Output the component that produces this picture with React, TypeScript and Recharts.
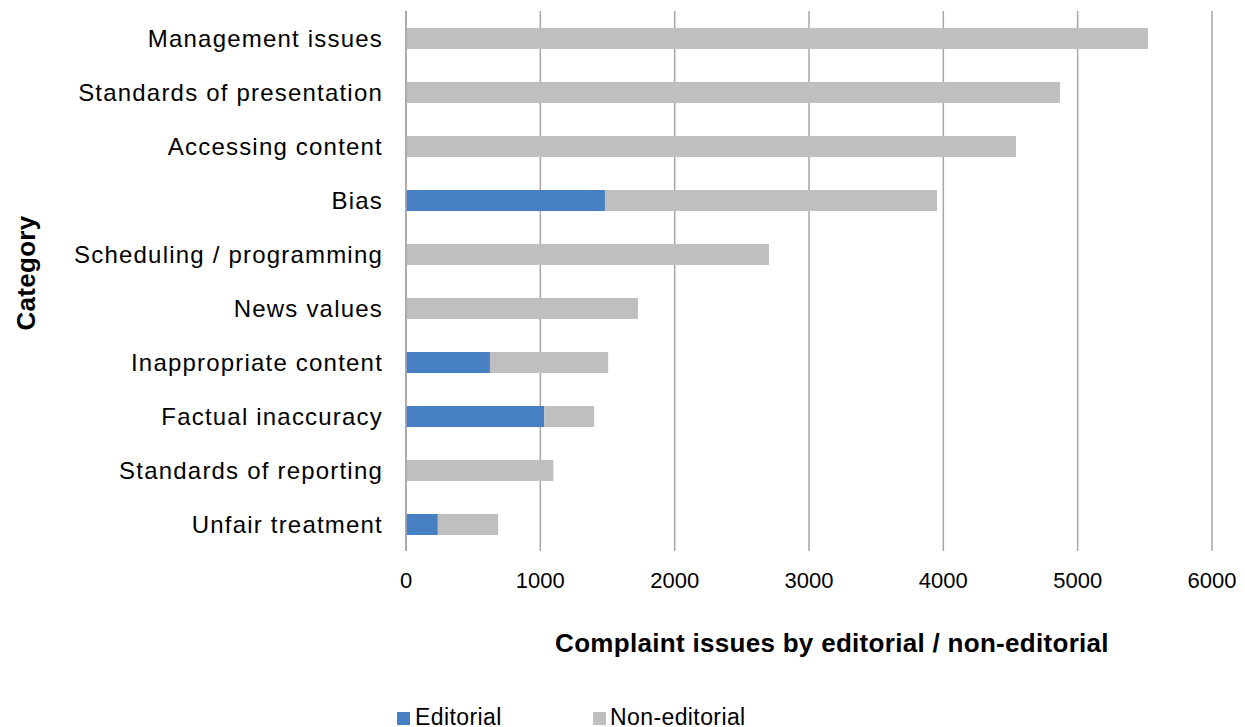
import { Bar, BarChart, CartesianGrid, XAxis, YAxis } from "recharts"

const categories = [
  "Management issues",
  "Standards of presentation",
  "Accessing content",
  "Bias",
  "Scheduling / programming",
  "News values",
  "Inappropriate content",
  "Factual inaccuracy",
  "Standards of reporting",
  "Unfair treatment",
]
const editorial = [0, 0, 0, 1481, 0, 0, 625, 1030, 0, 237]
const nonEditorial = [5524, 4868, 4541, 2472, 2702, 1727, 880, 371, 1097, 449]
const xTicks = [0, 1000, 2000, 3000, 4000, 5000, 6000]

const FONT = "'Liberation Sans', Arial, sans-serif"
const BLUE = "#4680c2"
const GREY = "#bfbfbf"
const GRID = "#a6a6a6"

export default function App() {
  const data = categories.map((c, i) => ({
    name: c,
    Editorial: editorial[i],
    "Non-editorial": nonEditorial[i],
  }))

  return (
    <div style={{ position: "absolute", left: 0, top: 0, width: 1245, height: 727, fontFamily: FONT, background: "#fff" }}>
      <BarChart
        width={1245}
        height={727}
        data={data}
        layout="vertical"
        margin={{ top: 11, right: 33, left: 0, bottom: 66 }}
        barCategoryGap={0}
      >
        <CartesianGrid horizontal={false} stroke={GRID} strokeWidth={1.5} />
        <XAxis
          type="number"
          domain={[0, 6000]}
          ticks={xTicks}
          height={110}
          axisLine={false}
          tickLine={false}
          tickSize={0}
          tickMargin={21}
          tick={{ fill: "#000", fontSize: 22, fontFamily: FONT }}
        />
        <YAxis
          type="category"
          dataKey="name"
          width={406}
          axisLine={{ stroke: GRID, strokeWidth: 1.5 }}
          tickLine={false}
          tickSize={0}
          tickMargin={23}
          tick={{ fill: "#000", fontSize: 24, fontFamily: FONT, letterSpacing: 1.2 }}
        />
        <Bar dataKey="Editorial" stackId="a" fill={BLUE} barSize={21} isAnimationActive={false} />
        <Bar dataKey="Non-editorial" stackId="a" fill={GREY} barSize={21} isAnimationActive={false} />
      </BarChart>
      <svg
        width={1245}
        height={727}
        style={{ position: "absolute", left: 0, top: 0, pointerEvents: "none" }}
        fontFamily={FONT}
      >
        <text x={832} y={652} textAnchor="middle" fontSize={26} fontWeight="bold" fill="#000" letterSpacing={0.3}>
          Complaint issues by editorial / non-editorial
        </text>
        <text
          x={0}
          y={0}
          transform="translate(35 273) rotate(-90)"
          textAnchor="middle"
          fontSize={26}
          fontWeight="bold"
          fill="#000"
          letterSpacing={0.3}
        >
          Category
        </text>
        <rect x={397} y={712} width={13} height={13} fill={BLUE} />
        <text x={415} y={725} fontSize={23} fill="#000" letterSpacing={0.4}>
          Editorial
        </text>
        <rect x={593} y={712} width={13} height={13} fill={GREY} />
        <text x={610} y={725} fontSize={23} fill="#000" letterSpacing={0.4}>
          Non-editorial
        </text>
      </svg>
    </div>
  )
}
